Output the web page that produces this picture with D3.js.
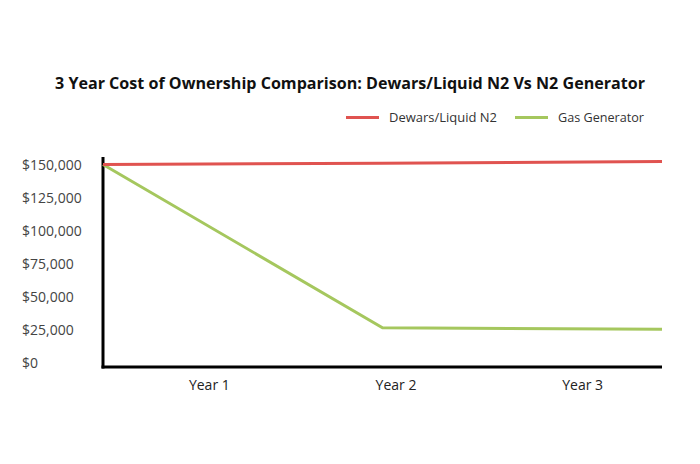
<!DOCTYPE html>
<html>
<head>
<meta charset="utf-8">
<script src="https://cdn.jsdelivr.net/npm/d3@7"></script>
<style>
  body { margin: 0; background: #fff; }
  text { font-family: "Open Sans", sans-serif; }
</style>
</head>
<body>
<svg id="chart"></svg>
<script>
var width = 700;
var height = 464;

// data
var years = ["Year 1", "Year 2", "Year 3"];
var dewars = [150000, 151000, 152200];
var generator = [150000, 26300, 25200];
var yTicks = [0, 25000, 50000, 75000, 100000, 125000, 150000];
var seriesNames = ["Dewars/Liquid N2", "Gas Generator"];
var seriesColors = ["#e05350", "#a5c75e"];

var svg = d3.select("#chart")
	.attr("width", width)
	.attr("height", height);

// scales
var x = d3.scalePoint().domain(years).range([103, 662]);
var xLabels = d3.scaleBand().domain(years).range([116, 676]);
var y = d3.scaleLinear().domain([0, 150000]).range([362.5, 164.5]);

// title
svg.append("text")
	.attr("x", 350).attr("y", 89)
	.attr("text-anchor", "middle")
	.attr("font-size", 15.5)
	.attr("font-weight", "bold")
	.attr("fill", "#111")
	.attr("textLength", 590)
	.attr("lengthAdjust", "spacingAndGlyphs")
	.text("3 Year Cost of Ownership Comparison: Dewars/Liquid N2 Vs N2 Generator");

// legend
var legendX = [346, 515];
var legendW = [108, 86];
var legend = svg.selectAll(".legend").data(seriesNames).enter().append("g")
	.attr("class", "legend")
	.attr("transform", (d, i) => "translate(" + legendX[i] + ",117.5)");
legend.append("line")
	.attr("x1", 0).attr("x2", 33)
	.attr("stroke", (d, i) => seriesColors[i])
	.attr("stroke-width", 3);
legend.append("text")
	.attr("x", 43).attr("y", 4.5)
	.attr("font-size", 12)
	.attr("fill", "#333")
	.attr("textLength", (d, i) => legendW[i])
	.attr("lengthAdjust", "spacingAndGlyphs")
	.text(d => d);

// y axis labels (left aligned)
var yAxis = d3.axisLeft(y).tickValues(yTicks).tickSize(0)
	.tickFormat(d => "$" + d3.format(",")(d));
var gy = svg.append("g").attr("transform", "translate(22,0)").call(yAxis);
gy.select(".domain").remove();
gy.selectAll("text")
	.attr("text-anchor", "start")
	.attr("x", 0)
	.attr("dy", "0.36em")
	.attr("font-family", "Open Sans, sans-serif")
	.attr("font-size", 14)
	.attr("fill", "#444");

// x axis labels
var xAxis = d3.axisBottom(xLabels).tickSize(0);
var gx = svg.append("g").attr("transform", "translate(0,367)").call(xAxis);
gx.select(".domain").remove();
gx.selectAll("text")
	.attr("dy", "0")
	.attr("y", 23)
	.attr("font-family", "Open Sans, sans-serif")
	.attr("font-size", 14)
	.attr("fill", "#222");

// axis frame lines
svg.append("line")
	.attr("x1", 103).attr("x2", 103)
	.attr("y1", 157).attr("y2", 368.5)
	.attr("stroke", "#000").attr("stroke-width", 3);
svg.append("line")
	.attr("x1", 101.5).attr("x2", 662)
	.attr("y1", 367).attr("y2", 367)
	.attr("stroke", "#000").attr("stroke-width", 3);

// series lines
var line = d3.line()
	.x((d, i) => x(years[i]))
	.y(d => y(d));

svg.append("path").datum(generator)
	.attr("d", line)
	.attr("fill", "none")
	.attr("stroke", seriesColors[1])
	.attr("stroke-width", 3);
svg.append("path").datum(dewars)
	.attr("d", line)
	.attr("fill", "none")
	.attr("stroke", seriesColors[0])
	.attr("stroke-width", 3);
</script>
</body>
</html>
